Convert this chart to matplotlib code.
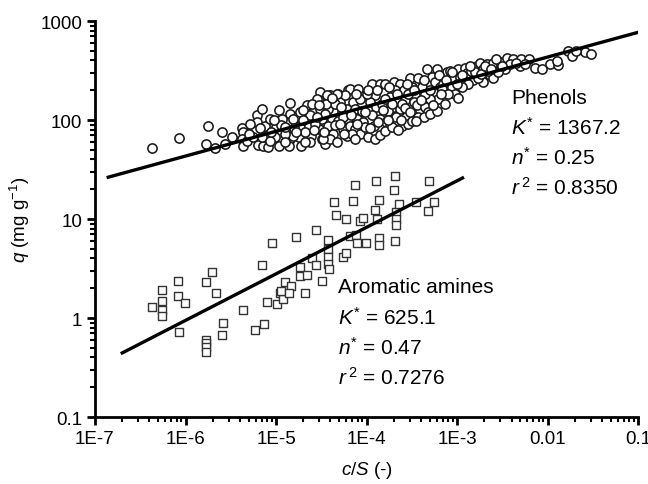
import numpy as np
import matplotlib
matplotlib.use("Agg")
import matplotlib.pyplot as plt
from matplotlib.ticker import LogLocator, NullFormatter

plt.rcParams["font.family"] = ["Liberation Sans", "DejaVu Sans"]
plt.rcParams["mathtext.fontset"] = "custom"
plt.rcParams["mathtext.rm"] = "Liberation Sans"
plt.rcParams["mathtext.it"] = "Liberation Sans:italic"

# phenols as log10 values
phenol_logx = [-6.37, -6.07, -5.75, -5.60, -5.77, -5.67, -5.56, -5.38, -5.36, -5.38, -5.36, -5.32,
               -5.21, -5.21, -5.23, -5.25, -5.20, -5.15, -5.12, -5.11, -5.14, -5.09, -5.00, -5.01,
               -4.97, -4.97, -4.85, -4.85, -4.85, -4.83, -4.85, -4.86, -4.77, -4.73, -4.75, -4.72,
               -4.66, -4.62, -4.64, -4.61, -4.62, -4.51, -4.53, -4.51, -4.49, -4.53, -4.49, -4.46,
               -4.40, -4.42, -4.38, -4.42, -4.37, -4.40, -4.31, -4.29, -4.27, -4.31, -4.26, -4.20,
               -4.22, -4.20, -4.22, -4.18, -4.09, -4.24, -4.15, -4.07, -4.13, -4.11, -4.18, -4.04,
               -3.94, -3.85, -3.80, -3.91, -3.96, -3.89, -3.83, -3.94, -3.85, -3.92, -3.78, -3.70,
               -3.63, -3.69, -3.59, -3.74, -3.65, -3.57, -3.70, -3.63, -3.67, -3.56, -3.61, -3.74,
               -3.52, -3.50, -3.46, -3.48, -3.41, -3.44, -3.35, -3.32, -3.43, -3.37, -3.39, -3.33,
               -3.22, -3.28, -3.24, -3.19, -3.26, -3.21, -3.30, -3.15, -3.11, -3.15, -3.17, -3.08,
               -3.04, -3.06, -2.99, -2.97, -3.02, -2.91, -2.89, -2.84, -2.82, -2.88, -2.78, -2.75,
               -2.71, -2.67, -2.60, -2.64, -2.60, -2.71, -2.52, -2.45, -2.38, -2.29, -2.20, -2.14,
               -1.97, -1.88, -1.90, -1.77, -1.59, -1.73, -2.30, -4.13, -4.07, -3.98, -3.91, -3.85,
               -3.80, -3.72, -3.65, -3.54, -3.50, -3.30, -3.22, -3.13, -5.16, -5.07, -4.81, -4.81,
               -4.73, -4.55, -4.44, -4.33, -4.48, -4.16, -4.13, -2.99, -2.47, -2.55, -2.77, -2.41,
               -2.06, -1.52, -1.69, -4.35, -4.05, -3.99, -3.76, -3.54, -3.43, -3.35, -4.57, -4.68,
               -4.90, -4.93, -4.02, -3.80, -3.61, -3.10, -2.94, -2.80, -2.66, -4.26, -4.46, -4.60,
               -5.07, -5.29, -5.49,
               -4.95, -4.90, -4.80, -4.70, -4.68, -4.58, -4.55, -4.47, -4.45, -4.35, -4.33, -4.28,
               -4.25, -4.17, -4.12, -4.10, -4.02, -3.98, -3.96, -3.88, -3.87, -3.82, -3.76, -3.75,
               -3.72, -3.66, -3.62, -3.58, -3.55, -3.52, -3.47, -3.45, -3.40, -3.37, -3.30, -3.27,
               -3.20, -3.18, -3.12, -3.05, -3.00, -2.95, -2.86, -2.74, -2.69, -2.62, -2.57, -2.50,
               -2.35, -2.25, -5.30, -5.18, -5.05, -5.02, -4.90, -4.78, -4.70, -4.52, -4.38, -4.29]
phenol_logq = [1.72, 1.82, 1.94, 1.88, 1.76, 1.72, 1.76, 1.92, 1.88, 1.81, 1.74, 1.79,
               2.05, 1.98, 1.89, 1.83, 1.75, 2.11, 1.94, 1.84, 1.74, 1.73, 1.93, 1.83,
               1.74, 2.10, 2.17, 2.06, 1.98, 1.89, 1.81, 1.74, 2.03, 1.93, 1.83, 1.74,
               2.15, 2.05, 1.94, 1.84, 1.78, 2.28, 2.20, 2.11, 2.01, 1.91, 1.81, 1.76,
               2.25, 2.11, 2.01, 1.94, 1.86, 1.81, 2.26, 2.18, 2.08, 1.99, 1.91, 2.30,
               2.11, 2.01, 1.84, 2.31, 2.31, 2.25, 2.18, 2.21, 2.11, 2.01, 1.94, 1.98,
               2.36, 2.36, 2.36, 2.25, 2.18, 2.13, 2.16, 2.05, 2.01, 1.94, 1.98, 2.38,
               2.36, 2.30, 2.30, 2.23, 2.21, 2.20, 2.13, 2.11, 2.03, 2.03, 1.94, 1.94,
               2.42, 2.33, 2.25, 2.18, 2.10, 2.15, 2.13, 2.08, 2.03, 2.03, 2.33, 2.52,
               2.52, 2.43, 2.38, 2.33, 2.28, 2.21, 2.21, 2.43, 2.48, 2.36, 2.31, 2.50,
               2.42, 2.33, 2.52, 2.43, 2.26, 2.53, 2.47, 2.50, 2.40, 2.36, 2.55, 2.58,
               2.52, 2.57, 2.58, 2.45, 2.42, 2.38, 2.59, 2.63, 2.62, 2.62, 2.62, 2.53,
               2.57, 2.56, 2.60, 2.70, 2.69, 2.65, 2.55, 1.91, 1.86, 1.83, 1.81, 1.85,
               1.89, 1.93, 1.90, 1.96, 1.99, 2.06, 2.09, 2.16, 1.83, 1.79, 2.01, 1.84,
               2.08, 2.21, 2.25, 2.26, 1.81, 1.86, 1.81, 2.22, 2.52, 2.48, 2.42, 2.57,
               2.52, 2.67, 2.70, 2.16, 2.09, 2.26, 2.09, 2.26, 2.42, 2.26, 1.96, 1.88,
               1.86, 2.01, 1.93, 2.21, 2.16, 2.26, 2.33, 2.48, 2.50, 2.03, 2.06, 2.16,
               2.01, 1.96, 1.83,
               1.95, 1.78, 1.92, 2.00, 1.78, 1.90, 2.03, 1.88, 2.16, 1.95, 1.78, 2.13,
               1.86, 2.05, 2.26, 1.96, 2.08, 2.30, 1.92, 2.30, 1.98, 2.10, 2.00, 2.33,
               2.16, 2.26, 2.00, 2.12, 2.36, 2.08, 2.30, 1.99, 2.20, 2.40, 2.30, 2.15,
               2.45, 2.26, 2.40, 2.48, 2.36, 2.45, 2.55, 2.46, 2.55, 2.52, 2.62, 2.55,
               2.58, 2.57, 1.86, 1.92, 1.88, 2.00, 1.93, 1.88, 2.10, 2.15, 2.22, 1.96]

# aromatic amines, log10 values
amine_logx = [-6.37, -6.26, -6.26, -6.26, -6.26, -6.08, -6.08, -6.01, -6.07, -5.77, -5.71, -5.66,
              -5.77, -5.77, -5.77, -5.77, -5.59, -5.60, -5.37, -5.23, -5.13, -5.16, -5.04, -5.10,
              -4.99, -4.96, -4.92, -4.95, -4.90, -4.83, -4.86, -4.78, -4.74, -4.73, -4.66, -4.68,
              -4.56, -4.60, -4.56, -4.49, -4.43, -4.42, -4.42, -4.42, -4.41, -4.36, -4.34, -4.23,
              -4.26, -4.23, -4.18, -4.12, -4.10, -4.01, -4.15, -4.13, -4.07, -4.04, -3.91, -3.88,
              -3.89, -3.86, -3.86, -3.86, -3.70, -3.69, -3.69, -3.67, -3.67, -3.67, -3.64, -3.45,
              -3.32, -3.31, -3.25]
amine_logq = [0.107, 0.281, 0.170, 0.080, 0.023, 0.376, 0.221, 0.154, -0.145, 0.366, 0.467, 0.248,
              -0.223, -0.256, -0.296, -0.347, -0.054, -0.172, 0.080, -0.125, -0.065, 0.540, 0.762, 0.157,
              0.137, 0.248, 0.191, 0.275, 0.366, 0.319, 0.255, 0.818, 0.520, 0.426, 0.432, 0.248,
              0.886, 0.611, 0.537, 0.376, 0.792, 0.702, 0.618, 0.545, 0.500, 1.175, 1.037, 0.999,
              0.616, 0.661, 0.830, 0.843, 0.757, 0.762, 1.182, 1.347, 0.984, 1.011, 1.088, 0.997,
              1.384, 1.189, 0.809, 0.737, 1.289, 1.432, 0.777, 1.072, 1.004, 0.944, 1.150, 1.172,
              1.082, 1.380, 1.172]

# Freundlich fits
phenol_K, phenol_n = 1367.2, 0.25
amine_K, amine_n = 625.1, 0.47
phenol_fit_range = [1.4e-7, 0.1]
amine_fit_range = [2.0e-7, 1.15e-3]

x_ticks = [1e-7, 1e-6, 1e-5, 1e-4, 1e-3, 1e-2, 1e-1]
x_ticklabels = ["1E-7", "1E-6", "1E-5", "1E-4", "1E-3", "0.01", "0.1"]
y_ticks = [0.1, 1, 10, 100, 1000]
y_ticklabels = ["0.1", "1", "10", "100", "1000"]

fig = plt.figure(figsize=(6.48, 4.85), dpi=100)
ax = fig.add_axes([0.1466, 0.1381, 0.838, 0.8165])

px = 10 ** np.array(phenol_logx)
pq = 10 ** np.array(phenol_logq)
ax.scatter(px, pq, s=44, facecolors="white", edgecolors="#1a1a1a", linewidths=1.15, zorder=3)

ax_ = 10 ** np.array(amine_logx)
aq = 10 ** np.array(amine_logq)
ax.scatter(ax_, aq, s=28, marker="s", facecolors="white", edgecolors="#333333", linewidths=1.0, zorder=3)

xf = np.logspace(np.log10(phenol_fit_range[0]), np.log10(phenol_fit_range[1]), 50)
ax.plot(xf, phenol_K * xf ** phenol_n, color="black", lw=2.4, zorder=4)
xf = np.logspace(np.log10(amine_fit_range[0]), np.log10(amine_fit_range[1]), 50)
ax.plot(xf, amine_K * xf ** amine_n, color="black", lw=2.4, zorder=4)

ax.set_xscale("log")
ax.set_yscale("log")
ax.set_xlim(1e-7, 0.1)
ax.set_ylim(0.1, 1000)
ax.set_xticks(x_ticks)
ax.set_xticklabels(x_ticklabels)
ax.set_yticks(y_ticks)
ax.set_yticklabels(y_ticklabels)
ax.xaxis.set_minor_locator(LogLocator(base=10, subs=np.arange(2, 10)))
ax.yaxis.set_minor_locator(LogLocator(base=10, subs=np.arange(2, 10)))
ax.xaxis.set_minor_formatter(NullFormatter())
ax.yaxis.set_minor_formatter(NullFormatter())

for side in ["top", "right"]:
    ax.spines[side].set_visible(False)
for side in ["left", "bottom"]:
    ax.spines[side].set_linewidth(2.0)
ax.tick_params(which="major", direction="out", length=6, width=2.0, labelsize=13.5, pad=3)
ax.tick_params(which="minor", direction="out", length=3.5, width=1.5)

ax.set_xlabel("$c$/$S$ (-)", fontsize=13.5, labelpad=9)
ax.set_ylabel("$q$ (mg g$^{-1}$)", fontsize=13.5, labelpad=6)

fs = 15
tx = 0.766
for txt, yy in [("Phenols", 0.793), ("$K^{*}$ = 1367.2", 0.715),
                ("$n^{*}$ = 0.25", 0.639), ("$r^{\\,2}$ = 0.8350", 0.563)]:
    ax.text(tx, yy, txt, transform=ax.transAxes, fontsize=fs, va="baseline", ha="left")
tx = 0.448
for txt, yy in [("Aromatic amines", 0.316), ("$K^{*}$ = 625.1", 0.235),
                ("$n^{*}$ = 0.47", 0.159), ("$r^{\\,2}$ = 0.7276", 0.083)]:
    ax.text(tx, yy, txt, transform=ax.transAxes, fontsize=fs, va="baseline", ha="left")

fig.savefig("out.png", dpi=100)
